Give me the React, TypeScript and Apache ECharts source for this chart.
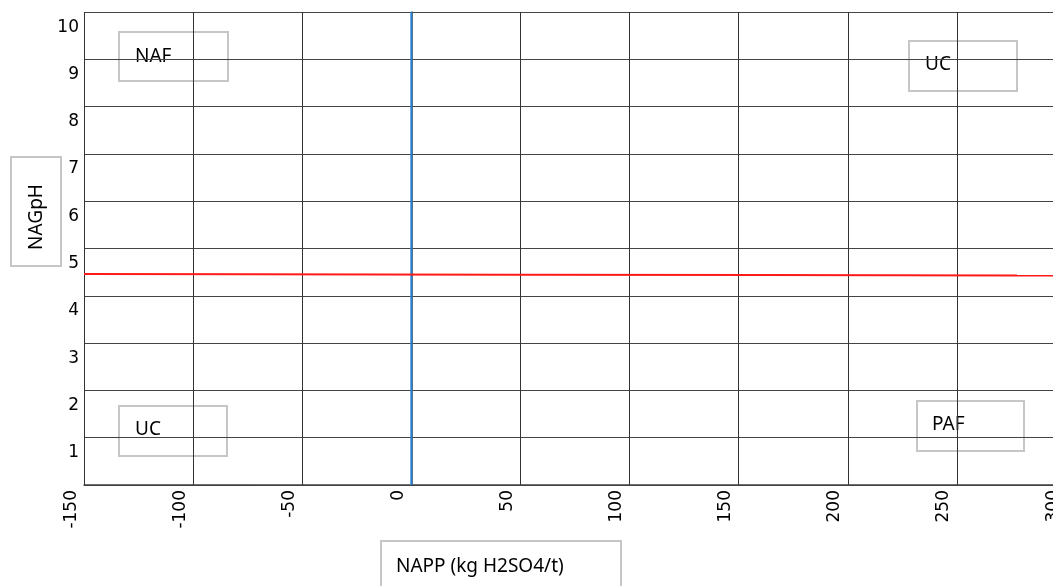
import React, { useEffect, useRef } from "react";
import * as echarts from "echarts";

const xTicks = { min: -150, max: 300, interval: 50 };
const yTicks = { min: 0, max: 10, interval: 1 };
const boundaryLine = [[0, 0], [0, 10]];
const nagLine = [[-150, 4.46], [300, 4.43]];
const boxLabels = ["NAF", "UC", "UC", "PAF"];
const yTitle = "NAGpH";
const xTitle = "NAPP (kg H2SO4/t)";

const boxFont = "Noto Sans";
const axisFont = "DejaVu Sans";

function box(x: number, y: number, w: number, h: number, text: string, tx: number, ty: number) {
  return {
    type: "group",
    children: [
      { type: "rect", shape: { x, y, width: w, height: h }, style: { fill: "#fff", stroke: "#c6c6c6", lineWidth: 2 } },
      {
        type: "text",
        x: tx,
        y: ty,
        style: { text, fill: "#000", font: `19px "${boxFont}"`, verticalAlign: "middle" },
      },
    ],
  };
}

export default function App() {
  const ref = useRef<HTMLDivElement>(null);
  useEffect(() => {
    if (!ref.current) return;
    const chart = echarts.init(ref.current, undefined, { renderer: "svg" });
    chart.setOption({
      animation: false,
      grid: { left: 84, top: 12, right: 0, bottom: 101, containLabel: false },
      xAxis: {
        type: "value",
        min: xTicks.min,
        max: xTicks.max,
        interval: xTicks.interval,
        axisLine: { show: true, onZero: false, lineStyle: { color: "#404040", width: 1.5 } },
        axisTick: { show: false },
        splitLine: { show: true, lineStyle: { color: "#333", width: 1 } },
        axisLabel: {
          rotate: 90,
          margin: 5,
          color: "#000",
          fontFamily: axisFont,
          fontSize: 17,
          verticalAlign: "bottom",
          padding: [0, 0, 6, 0],
        },
      },
      yAxis: {
        type: "value",
        min: yTicks.min,
        max: yTicks.max,
        interval: yTicks.interval,
        axisLine: { show: true, lineStyle: { color: "#404040", width: 1.5 } },
        axisTick: { show: false },
        splitLine: { show: true, lineStyle: { color: "#444", width: 1 } },
        axisLabel: {
          margin: 5,
          color: "#000",
          fontFamily: axisFont,
          fontSize: 17,
          verticalAlign: "top",
          padding: [5, 0, 0, 0],
          formatter: (v: number) => (v === 0 ? "" : String(v)),
        },
      },
      series: [
        {
          type: "line",
          data: boundaryLine,
          symbol: "none",
          clip: false,
          lineStyle: { color: "#2580d4", width: 2 },
          z: 3,
        },
        {
          type: "line",
          data: nagLine,
          symbol: "none",
          clip: false,
          lineStyle: { color: "#ff1a1a", width: 2 },
          z: 3,
        },
      ],
      graphic: [
        box(119, 32, 109, 49, boxLabels[0], 135, 55),
        box(909, 41, 108, 50, boxLabels[1], 925, 63),
        box(119, 406, 108, 50, boxLabels[2], 135, 428),
        box(917, 401, 107, 50, boxLabels[3], 932, 423),
        {
          type: "group",
          children: [
            { type: "rect", shape: { x: 11, y: 157, width: 50, height: 109 }, style: { fill: "#fff", stroke: "#c6c6c6", lineWidth: 2 } },
            {
              type: "text",
              x: 35,
              y: 217,
              rotation: Math.PI / 2,
              style: { text: yTitle, fill: "#000", font: `19px "${boxFont}"`, align: "center", verticalAlign: "middle" },
            },
          ],
        },
        box(381, 541, 240, 60, xTitle, 396, 565),
      ],
    });
    return () => chart.dispose();
  }, []);
  return (
    <div style={{ position: "fixed", left: 0, top: 0, width: 1053, height: 586, overflow: "hidden" }}>
      <div ref={ref} style={{ width: 1066, height: 586 }} />
    </div>
  );
}
